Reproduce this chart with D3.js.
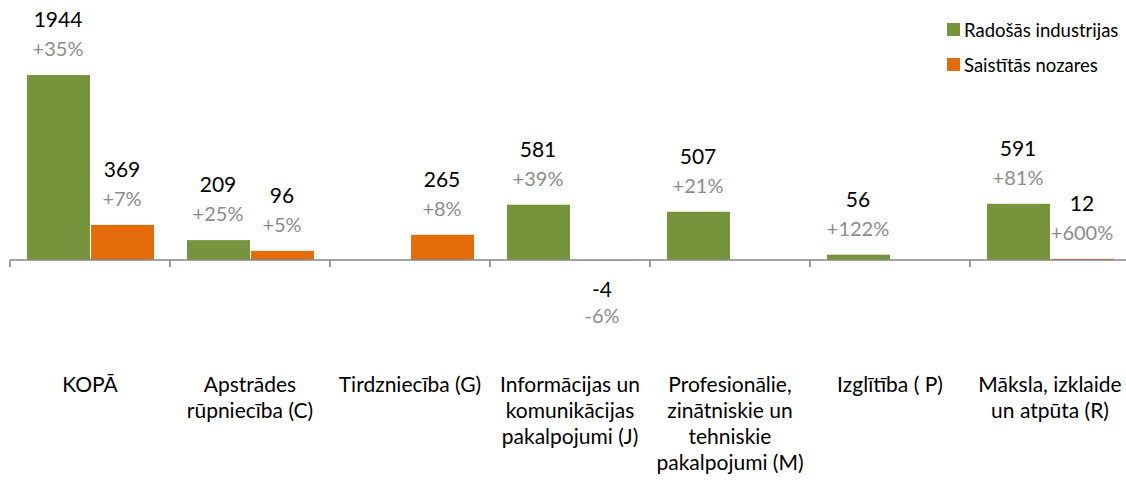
<!DOCTYPE html>
<html>
<head>
<meta charset="utf-8">
<script src="https://cdn.jsdelivr.net/npm/d3@7/dist/d3.min.js"></script>
<style>
	body { margin: 0; background: #fff; }
	text { font-family: Lato, "Open Sans", sans-serif; }
</style>
</head>
<body>
<div id="chart"></div>
<script>
// data
var categories= ["KOPĀ","Apstrādes rūpniecība (C)","Tirdzniecība (G)","Informācijas un komunikācijas pakalpojumi (J)","Profesionālie, zinātniskie un tehniskie pakalpojumi (M)","Izglītība ( P)","Māksla, izklaide un atpūta (R)"];
var tick_labels= [
	["KOPĀ"],
	["Apstrādes","rūpniecība (C)"],
	["Tirdzniecība (G)"],
	["Informācijas un","komunikācijas","pakalpojumi (J)"],
	["Profesionālie,","zinātniskie un","tehniskie","pakalpojumi (M)"],
	["Izglītība ( P)"],
	["Māksla, izklaide","un atpūta (R)"]
];
var series_names= ["Radošās industrijas","Saistītās nozares"];
var radosas= [1944, 209, null, 581, 507, 56, 591];
var saistitas= [369, 96, 265, -4, null, null, 12];
var radosas_pct= ["+35%","+25%",null,"+39%","+21%","+122%","+81%"];
var saistitas_pct= ["+7%","+5%","+8%","-6%",null,null,"+600%"];
var colors= ["#77933C","#E46C0A"];

var width= 1126, height= 482;

var svg= d3.select("#chart")
	.append("svg")
	.attr("width", width)
	.attr("height", height);

var x= d3.scaleBand()
	.domain(categories)
	.range([10, 1130]);

var x_inner= d3.scaleBand()
	.domain([0, 1])
	.range([0, x.bandwidth()])
	.paddingOuter(0.25)
	.paddingInner(0);

var y= d3.scaleLinear()
	.domain([0, 2000])
	.range([260, 69.7]);

var series= [radosas, saistitas];
var pcts= [radosas_pct, saistitas_pct];

for ((s= 0); (s< 2); (s++)) {
	var rows= categories.map(function(c, i) {
		return {cat: c, v: series[s][i], p: pcts[s][i]};
	}).filter(function(d) { return d.v !== null; });

	var g= svg.append("g");

	g.selectAll("rect")
		.data(rows)
		.enter().append("rect")
			.attr("x", function(d) { return x(d.cat)+ x_inner(s)+ 1; })
			.attr("y", function(d) { return y(Math.max(0, d.v)); })
			.attr("width", x_inner.bandwidth()- 1)
			.attr("height", function(d) { return Math.abs(y(d.v)- y(0)); })
			.attr("fill", colors[s]);

	g.selectAll("text.val")
		.data(rows)
		.enter().append("text")
			.attr("class", "val")
			.attr("x", function(d) { return x(d.cat)+ x_inner(s)+ x_inner.bandwidth()/2; })
			.attr("y", function(d) { return d.v>= 0 ? y(d.v)- 48 : y(d.v)+ 37; })
			.attr("text-anchor", "middle")
			.attr("font-size", 21)
			.attr("fill", "#000")
			.text(function(d) { return d.v; });

	g.selectAll("text.pct")
		.data(rows)
		.enter().append("text")
			.attr("class", "pct")
			.attr("x", function(d) { return x(d.cat)+ x_inner(s)+ x_inner.bandwidth()/2; })
			.attr("y", function(d) { return d.v>= 0 ? y(d.v)- 19 : y(d.v)+ 63; })
			.attr("text-anchor", "middle")
			.attr("font-size", 20)
			.attr("fill", "#8C8C8C")
			.text(function(d) { return d.p; });
}

// axis
var axis= svg.append("g");
axis.append("line")
	.attr("x1", 10).attr("x2", width)
	.attr("y1", y(0)).attr("y2", y(0))
	.attr("stroke", "#868686")
	.attr("stroke-width", 1.5);

axis.selectAll("line.tick")
	.data(categories)
	.enter().append("line")
		.attr("class", "tick")
		.attr("x1", function(d) { return x(d); })
		.attr("x2", function(d) { return x(d); })
		.attr("y1", y(0))
		.attr("y2", y(0)+ 7)
		.attr("stroke", "#868686")
		.attr("stroke-width", 1.5);

var labels= axis.selectAll("text.cat")
	.data(categories)
	.enter().append("text")
		.attr("class", "cat")
		.attr("text-anchor", "middle")
		.attr("font-size", 21)
		.attr("fill", "#000");

labels.each(function(d, i) {
	var t= d3.select(this);
	tick_labels[i].forEach(function(line, j) {
		t.append("tspan")
			.attr("x", x(d)+ x.bandwidth()/2)
			.attr("y", 392+ j*26)
			.text(line);
	});
});

// legend
var legend= svg.append("g");
for ((i= 0); (i< 2); (i++)) {
	legend.append("rect")
		.attr("x", 947)
		.attr("y", 23+ i*35)
		.attr("width", 13)
		.attr("height", 13)
		.attr("fill", colors[i]);

	legend.append("text")
		.attr("x", 964)
		.attr("y", 37+ i*35)
		.attr("font-size", 18.5)
		.attr("fill", "#000")
		.text(series_names[i]);
}
</script>
</body>
</html>
